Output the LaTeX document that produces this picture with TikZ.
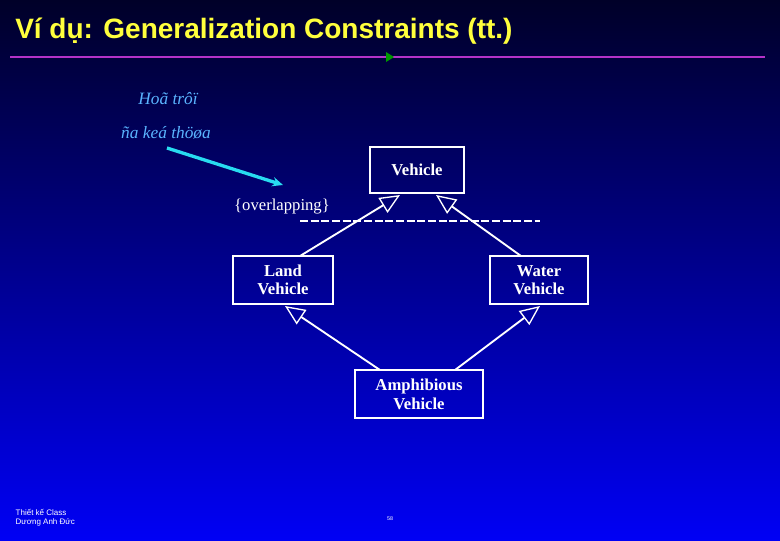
\documentclass[tikz,border=0pt]{standalone}
\usepackage{fontspec}
\setmainfont{Liberation Serif}
\newfontfamily\arialf{Liberation Sans}
\usetikzlibrary{arrows.meta}
\definecolor{ttl}{RGB}{255,255,60}
\definecolor{cyantext}{RGB}{90,180,255}
\definecolor{cyanarrow}{RGB}{40,220,240}
\definecolor{purp}{RGB}{180,50,200}
\begin{document}
\begin{tikzpicture}[x=0.75pt,y=-0.75pt,
  cls/.style={draw=white,line width=1.3pt,text=white,font=\bfseries\fontsize{12.5}{14}\selectfont,align=center,inner sep=0pt},
  gen/.style={draw=white,line width=1.4pt,-{Triangle[open,length=15pt,width=13pt,line width=1pt]}},
  lbl/.style={text=white,font=\fontsize{12.5}{14}\selectfont}]
\shade[top color={rgb,255:red,0;green,0;blue,40},bottom color={rgb,255:red,0;green,0;blue,245}] (0,0) rectangle (780,540);
\useasboundingbox (0,0) rectangle (780,540);
\node[anchor=west,text=ttl,font=\arialf\bfseries\fontsize{21}{24}\selectfont,inner sep=0pt] (title) at (15,31) {Ví~dụ: Generalization Constraints (tt.)};
\draw[purp,line width=1.5pt] (10,57) -- (765,57);
\fill[green!60!black] (386,52) -- (394,57) -- (386,62) -- cycle;
\node[text=cyantext,font=\itshape\fontsize{13}{14}\selectfont] (t1) at (168,99) {Hoã trôï};
\node[text=cyantext,font=\itshape\fontsize{13}{14}\selectfont] (t2) at (166,133) {ña keá thöøa};
\coordinate (a1) at (167,148);
\coordinate (a2) at (283,185);
\draw[cyanarrow,line width=2.5pt,-{Stealth[length=8pt,width=7pt]}] (a1) -- (a2);
\node[cls,text width=70pt,minimum height=35pt] (veh) at (417,170) {Vehicle};
\node[cls,text width=75pt,minimum height=36pt] (land) at (283,280) {Land\\Vehicle};
\node[cls,text width=73pt,minimum height=36pt] (water) at (539,280) {Water\\Vehicle};
\node[cls,text width=96pt,minimum height=36pt] (amph) at (419,394) {Amphibious\\Vehicle};
\node[lbl] (ov) at (282,207) {\{overlapping\}};
\coordinate (d1) at (300,221);
\coordinate (d2) at (540,221);
\draw[white,line width=1.3pt,dash pattern=on 6pt off 2pt] (d1) -- (d2);
\coordinate (vl) at (400,195);
\coordinate (vr) at (436,195);
\coordinate (lt) at (300,256);
\coordinate (wt) at (521,256);
\draw[gen] (lt) -- (vl);
\draw[gen] (wt) -- (vr);
\coordinate (lb) at (285,306);
\coordinate (wb) at (540,306);
\coordinate (al) at (380,370);
\coordinate (ar) at (455,370);
\draw[gen] (al) -- (lb);
\draw[gen] (ar) -- (wb);
\node[anchor=west,text=white,font=\arialf\fontsize{6}{7}\selectfont,align=left] (ft) at (11,518) {Thiết kế Class\\Dương Anh Đức};
\node[text=white,font=\arialf\fontsize{4}{4}\selectfont] (pg) at (390,519) {58};
\end{tikzpicture}
\end{document}
